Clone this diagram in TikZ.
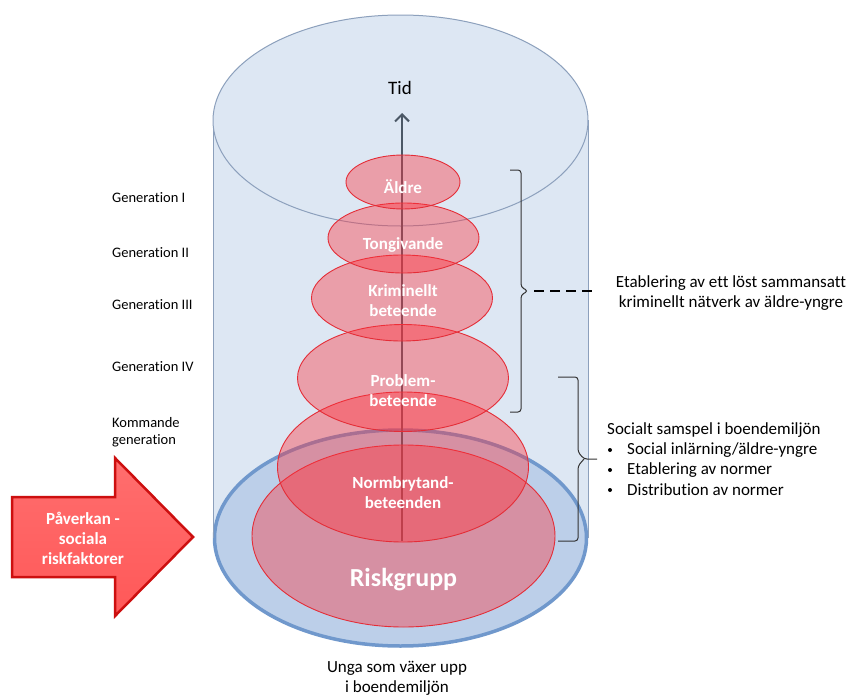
\documentclass[tikz,border=0pt]{standalone}
\usepackage{fontspec}
\setmainfont{Carlito}[Ligatures=NoCommon]
\usetikzlibrary{shapes.geometric,arrows.meta}
\definecolor{cylfill}{RGB}{221,231,243}
\definecolor{cylline}{RGB}{140,160,188}
\definecolor{basefill}{RGB}{188,207,233}
\definecolor{baseline}{RGB}{112,152,204}
\definecolor{redfill}{RGB}{255,50,60}
\definecolor{redline}{RGB}{228,45,55}
\definecolor{arrowgray}{RGB}{75,88,102}
\definecolor{bigred}{RGB}{255,88,88}
\definecolor{bigredtop}{RGB}{255,110,110}
\definecolor{bigredline}{RGB}{205,15,15}
\begin{document}
\begin{tikzpicture}[x=1pt,y=-1pt,
  redell/.style={ellipse, draw=redline, line width=0.9pt, fill=redfill, fill opacity=0.4, inner sep=0pt},
  intext/.style={text=white, font=\bfseries\fontsize{17}{20}\selectfont, align=center, inner sep=0pt},
  gen/.style={anchor=west, font=\fontsize{14.5}{17.5}\selectfont, align=left, inner sep=0pt},
  side/.style={font=\fontsize{17}{20}\selectfont, inner sep=0pt},
  bracketline/.style={draw=black!80, line width=1pt, rounded corners=3pt}
]
\useasboundingbox (0,0) rectangle (849,696);
\fill[white] (0,0) rectangle (849,696);

% cylinder body
\fill[cylfill] (213,120) rectangle (588,538);
\node[ellipse, fill=basefill, draw=baseline, line width=3.5pt, minimum width=372pt, minimum height=216pt, inner sep=0pt] (base) at (400.5,538) {};
\draw[cylline, line width=1pt] (213,120) -- (213,538);
\draw[cylline, line width=1pt] (588,120) -- (588,538);
\node[ellipse, fill=cylfill, draw=cylline, line width=1pt, minimum width=375pt, minimum height=211pt, inner sep=0pt] (top) at (400.5,120.5) {};

% time arrow
\coordinate (abot) at (402,541);
\coordinate (atop) at (402,113);
\draw[arrowgray, line width=2pt, -{Straight Barb[length=7pt,width=14pt,line width=2pt]}] (abot) -- (atop);
\node[font=\fontsize{19}{22}\selectfont, inner sep=0pt] (tid) at (400,88) {Tid};

% red ellipses
\node[redell, minimum width=303pt, minimum height=182pt] (e6) at (403.5,536) {};
\node[redell, minimum width=251pt, minimum height=150pt] (e5) at (403,467) {};
\node[redell, minimum width=211pt, minimum height=107pt] (e4) at (403,378) {};
\node[redell, minimum width=181pt, minimum height=86pt] (e3) at (402,298) {};
\node[redell, minimum width=151pt, minimum height=70pt] (e2) at (403.5,238) {};
\node[redell, minimum width=114pt, minimum height=54pt] (e1) at (403,182) {};

\node[intext] (t1) at (403,187) {Äldre};
\node[intext] (t2) at (403,245) {Tongivande};
\node[intext] (t3) at (403,301) {Kriminellt\\beteende};
\node[intext] (t4) at (403,391) {Problem-\\beteende};
\node[intext] (t5) at (403,493) {Normbrytand-\\beteenden};
\node[text=white, font=\bfseries\fontsize{26}{30}\selectfont, inner sep=0pt] (t6) at (403.5,580) {Riskgrupp};

% generation labels
\node[gen] (g1) at (112,198) {Generation I};
\node[gen] (g2) at (112,253) {Generation II};
\node[gen] (g3) at (112,305) {Generation III};
\node[gen] (g4) at (112,367) {Generation IV};
\node[gen] (g5) at (112,432) {Kommande\\generation};

% brackets
\coordinate (b1tip) at (528,291);
\draw[bracketline] (510,170) -- (521,170) -- (521,287) -- (b1tip) -- (521,295) -- (521,412) -- (510,412);
\coordinate (dend) at (592,291);
\draw[black, line width=2pt, dash pattern=on 10pt off 6pt] (534,291) -- (dend);
\coordinate (b2tip) at (597,459);
\draw[bracketline] (558,377) -- (578,377) -- (578,452) -- (584,459) -- (b2tip);
\draw[bracketline] (584,459) -- (578,466) -- (578,541) -- (558,541);

% right texts
\node[side, align=center] (net) at (731,293) {Etablering av ett löst sammansatt\\kriminellt nätverk av äldre-yngre};
\node[side, anchor=west] (soc) at (607,430) {Socialt samspel i boendemiljön};
\node[side, anchor=west] (s1) at (627,450) {Social inlärning/äldre-yngre};
\node[side, anchor=west] (s2) at (627,470) {Etablering av normer};
\node[side, anchor=west] (s3) at (627,490) {Distribution av normer};
\foreach \n in {s1,s2,s3} \fill (\n.west) ++(-17,0) circle (2pt);

% bottom text
\node[side, align=center] (unga) at (397,678) {Unga som växer upp\\i boendemiljön};

% big red arrow
\draw[bigredline, line width=2.5pt, top color=bigredtop, bottom color=bigred, line join=miter]
  (12,497) -- (115,497) -- (115,458) -- (193,537) -- (115,616) -- (115,577) -- (12,577) -- cycle;
\node[intext, font=\bfseries\fontsize{17}{20}\selectfont] (pav) at (83,538) {Påverkan -\\sociala\\riskfaktorer};
\end{tikzpicture}
\end{document}
